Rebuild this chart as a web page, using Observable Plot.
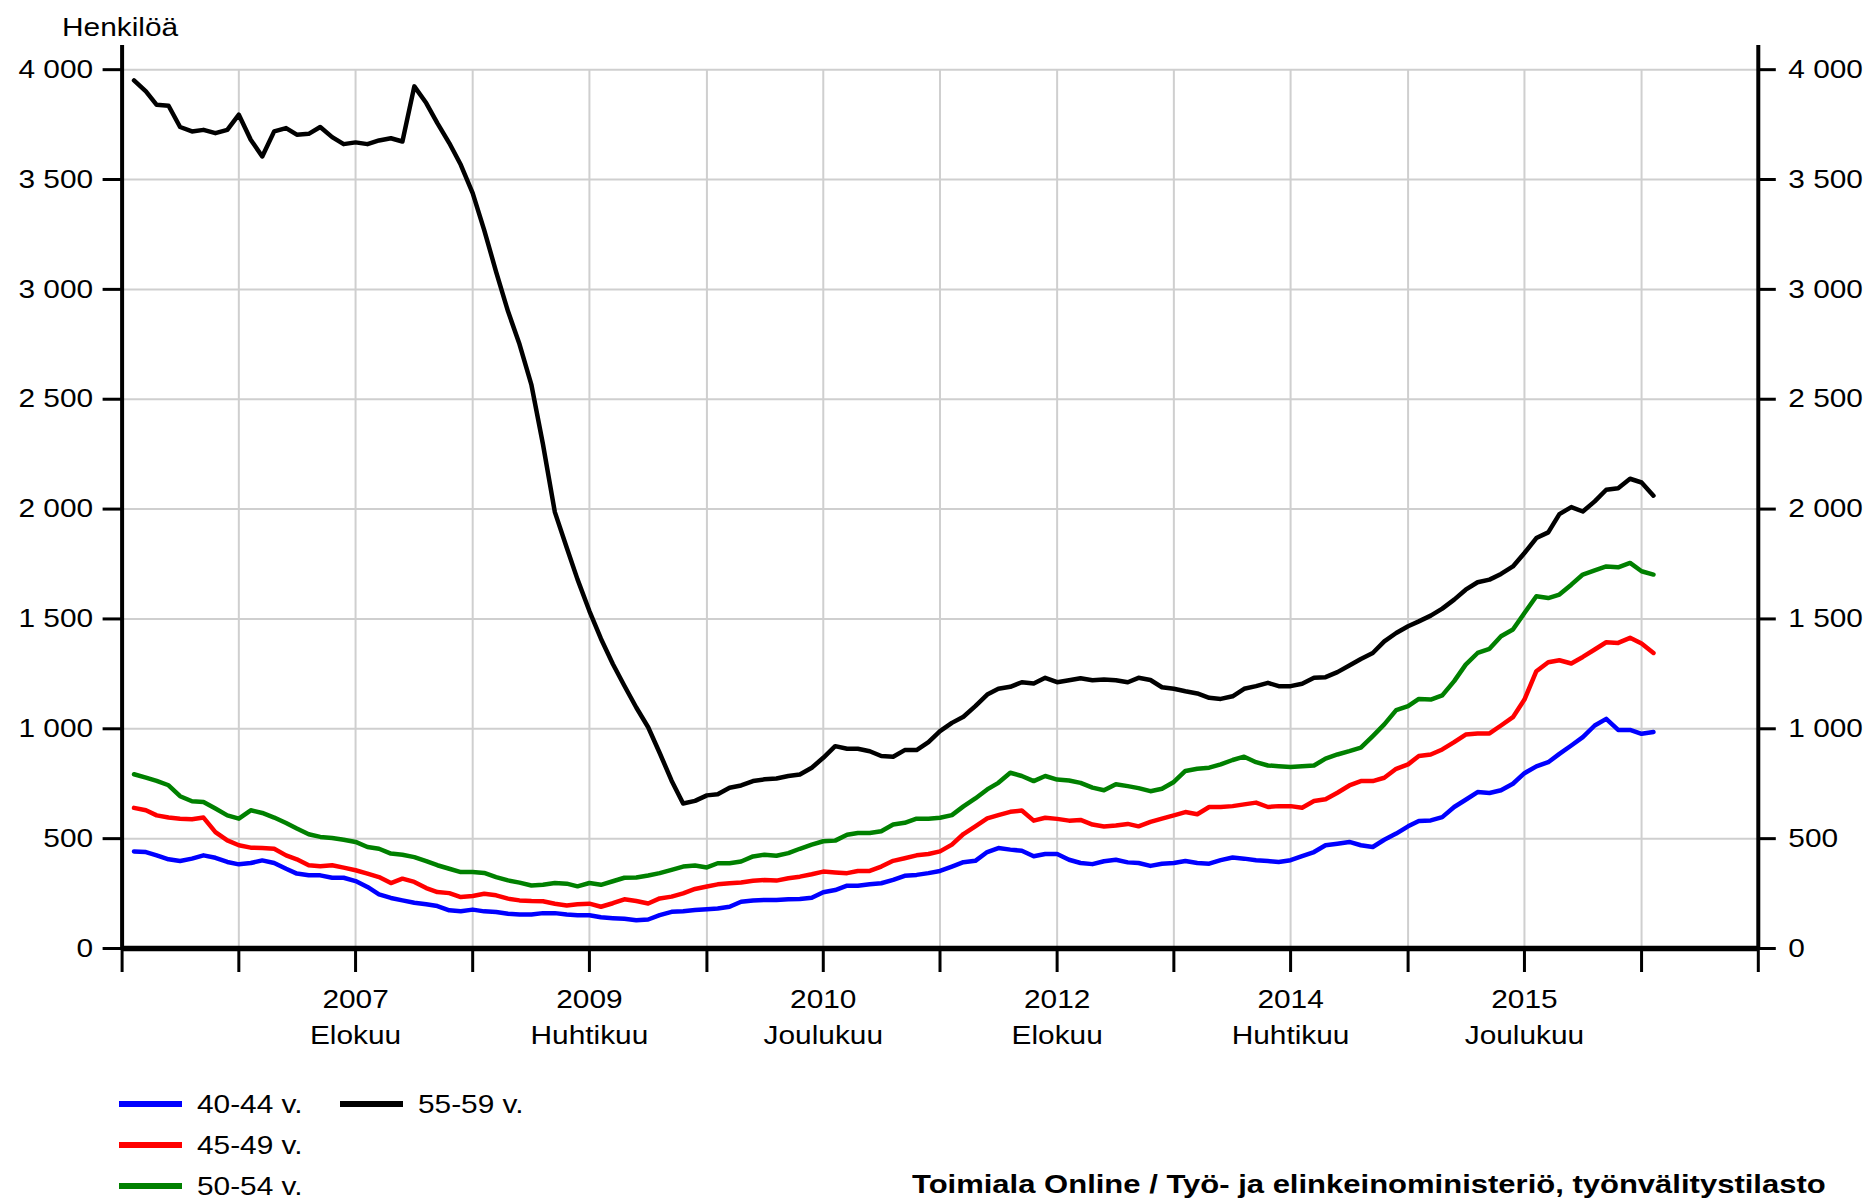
<!DOCTYPE html>
<html><head><meta charset="utf-8">
<script src="https://cdn.jsdelivr.net/npm/d3@7"></script>
<script src="https://cdn.jsdelivr.net/npm/@observablehq/plot@0.6"></script>
<style>
body{margin:0;background:#fff;}
#wrap{position:relative;width:1870px;height:1200px;overflow:hidden;font-family:"Liberation Sans",Arial,Helvetica,sans-serif;font-size:25.5px;color:#000;background:#fff;}
#chart{position:absolute;left:0;top:0;}
#chart svg{font-family:"Liberation Sans",Arial,Helvetica,sans-serif !important;font-size:25.5px !important;}
#chart svg text{fill:#000;}
.lab{position:absolute;height:30px;line-height:30px;white-space:nowrap;transform:scaleX(1.17);transform-origin:0 50%;}
.sw{position:absolute;width:63px;height:6px;}
</style></head>
<body><div id="wrap"><div id="chart"></div></div>
<script>
// ---- data (monthly, Jan 2006 - Nov 2016) ----
const seriesNames = ["40-44 v.", "45-49 v.", "50-54 v.", "55-59 v."];
const seriesColors = ["#0000ff", "#ff0000", "#008000", "#000000"];
const v40_44 = [442,439,424,406,398,409,424,413,394,383,
389,401,389,363,341,333,333,322,322,307,
280,246,230,219,208,201,193,174,170,177,
169,166,158,155,155,161,161,155,151,151,
142,138,135,129,132,152,167,170,175,179,
182,190,213,218,221,221,224,225,231,256,
266,286,286,292,297,312,331,335,343,353,
373,393,399,439,457,450,445,420,430,430,
404,389,384,397,404,392,389,376,386,389,
398,389,386,402,414,409,402,398,394,402,
420,439,470,477,485,470,462,495,523,556,
580,583,598,644,677,712,708,720,750,798,
829,848,886,924,962,1015,1045,995,995,977,
985];
const v45_49 = [640,629,606,596,591,588,596,530,492,470,
459,457,454,424,406,379,374,379,368,356,
341,325,298,318,303,275,257,252,234,239,
249,242,227,219,216,215,204,196,201,204,
190,206,224,216,205,228,236,251,271,282,
292,297,300,308,312,309,320,327,338,350,
346,343,353,353,373,399,411,424,430,442,
473,521,556,592,607,622,628,582,595,590,
582,585,564,555,560,567,556,576,591,606,
621,611,644,644,648,656,664,644,648,648,
641,671,679,709,742,762,762,777,818,838,
876,883,906,939,974,979,979,1015,1053,1133,
1262,1303,1312,1297,1327,1361,1394,1391,1414,1388,
1345];
const v50_54 = [793,778,763,743,693,670,667,637,606,591,
629,617,596,571,546,520,508,503,495,485,
462,454,432,427,416,398,379,363,348,348,
344,325,310,300,287,290,298,295,283,298,
290,306,322,323,332,343,358,373,378,369,
388,388,396,419,427,422,434,454,473,488,
491,518,526,526,534,564,572,591,591,595,
607,647,683,724,754,800,785,762,785,769,
765,754,732,720,748,739,730,716,727,758,
808,818,823,838,858,873,848,833,830,826,
830,833,864,883,898,914,967,1020,1085,1103,
1136,1133,1152,1217,1292,1345,1364,1421,1452,1527,
1603,1595,1611,1656,1702,1721,1739,1735,1755,1717,
1702];
const v55_59 = [3951,3901,3840,3836,3739,3719,3726,3711,3726,3795,
3681,3605,3719,3734,3704,3708,3739,3693,3661,3669,
3661,3678,3688,3673,3924,3848,3757,3666,3567,3438,
3270,3080,2900,2750,2565,2295,1986,1824,1680,1536,
1410,1295,1196,1097,1007,890,764,660,672,697,
702,732,742,762,770,774,785,792,823,868,
921,909,909,898,876,873,903,903,939,989,
1027,1055,1103,1156,1182,1191,1212,1206,1232,1212,
1221,1230,1221,1224,1221,1212,1232,1222,1189,1182,
1171,1161,1141,1136,1148,1182,1194,1209,1194,1194,
1205,1232,1235,1258,1288,1318,1345,1398,1436,1467,
1489,1515,1547,1588,1633,1667,1679,1705,1739,1800,
1868,1894,1977,2009,1989,2035,2088,2095,2138,2121,
2061];
const yTicks = [0, 500, 1000, 1500, 2000, 2500, 3000, 3500, 4000];
const tickYears = ["2007", "2009", "2010", "2012", "2014", "2015"];
const tickMonths = ["Elokuu", "Huhtikuu", "Joulukuu", "Elokuu", "Huhtikuu", "Joulukuu"];
const yLabel = "Henkilöä";
const caption = "Toimiala Online / Työ- ja elinkeinoministeriö, työnvälitystilasto";

// ---- build ----
const values = [v40_44, v45_49, v50_54, v55_59];
const firstMonth = new Date(Date.UTC(2006, 0, 1));
const months = v40_44.map((_, i) => d3.utcMonth.offset(firstMonth, i));
const rows = seriesNames.flatMap((name, s) => values[s].map((v, i) => ({date: months[i], value: v, series: name})));

const xStart = new Date(Date.UTC(2005, 11, 1));
const gridTicks = d3.range(15).map(k => d3.utcMonth.offset(xStart, k * 10));
const xEnd = gridTicks[gridTicks.length - 1];
const labelTicks = gridTicks.filter((d, k) => k % 2 === 0 && k > 0 && k < 14);
const yearOf = new Map(labelTicks.map((d, i) => [+d, tickYears[i]]));
const monthOf = new Map(labelTicks.map((d, i) => [+d, tickMonths[i]]));
const fmt = d3.formatLocale({thousands: "\u00a0", grouping: [3], decimal: ","}).format(",");

const chart = Plot.plot({
  width: 1870, height: 1070,
  marginLeft: 121.6, marginRight: 112.2, marginTop: 45, marginBottom: 122,
  x: {type: "utc", domain: [xStart, xEnd]},
  y: {domain: [0, 4110]},
  color: {domain: seriesNames, range: seriesColors},
  style: {background: "#fff", fontSize: "25.5px", fontFamily: "Liberation Sans, Arial, sans-serif", overflow: "visible"},
  marks: [
    Plot.ruleY(yTicks.filter(d => d > 0), {stroke: "#cfcfcf", strokeWidth: 2}),
    Plot.ruleX(gridTicks.slice(1, -1), {y1: 0, y2: 4000, stroke: "#cfcfcf", strokeWidth: 2}),
    Plot.line(rows, {x: "date", y: "value", z: "series", stroke: "series", strokeWidth: 4.5, strokeLinejoin: "round", strokeLinecap: "round"}),
    Plot.ruleY([0], {stroke: "#000", strokeWidth: 5.5}),
    Plot.ruleX([xStart, xEnd], {stroke: "#000", strokeWidth: 4}),
    Plot.axisY({anchor: "left", ticks: yTicks, tickSize: 19, tickPadding: 10, tickFormat: fmt, strokeWidth: 3, label: null}),
    Plot.axisY({anchor: "right", ticks: yTicks, tickSize: 17, tickPadding: 13, tickFormat: fmt, strokeWidth: 3, label: null}),
    Plot.axisX({ticks: gridTicks, tickSize: 24, tickFormat: () => "", strokeWidth: 3, label: null}),
    Plot.axisX({ticks: labelTicks, tickSize: 0, tickPadding: 41, tickFormat: d => yearOf.get(+d), label: null}),
    Plot.axisX({ticks: labelTicks, tickSize: 0, tickPadding: 77, tickFormat: d => monthOf.get(+d), label: null})
  ]
});
document.getElementById("chart").append(chart);

// widen glyphs horizontally like the reference's type, keeping each label's anchor fixed
chart.querySelectorAll("text").forEach(t => {
  if (!t.textContent) return;
  const r = t.getBoundingClientRect();
  const anchor = getComputedStyle(t).textAnchor;
  const ax = anchor === "end" ? r.right : anchor === "middle" ? (r.left + r.right) / 2 : r.left;
  const ctm = t.parentNode.getScreenCTM();
  const px = (ax - ctm.e) / ctm.a;
  const g = document.createElementNS("http://www.w3.org/2000/svg", "g");
  g.setAttribute("transform", `translate(${px},0) scale(1.17,1) translate(${-px},0)`);
  t.parentNode.insertBefore(g, t);
  g.appendChild(t);
});

const wrap = document.getElementById("wrap");
function addLabel(text, left, top, extra) {
  const el = document.createElement("div");
  el.className = "lab";
  el.style.left = left + "px";
  el.style.top = top + "px";
  if (extra) Object.assign(el.style, extra);
  el.textContent = text;
  wrap.append(el);
  return el;
}
addLabel(yLabel, 62, 11.5);
// legend
const legendPos = [[119, 1104], [119, 1145], [119, 1186], [340, 1104]];
seriesNames.forEach((name, i) => {
  const sw = document.createElement("div");
  sw.className = "sw";
  sw.style.left = legendPos[i][0] + "px";
  sw.style.top = (legendPos[i][1] - 3) + "px";
  sw.style.background = seriesColors[i];
  wrap.append(sw);
  addLabel(name, legendPos[i][0] + 78, legendPos[i][1] - 15);
});
addLabel(caption, 912, 1169, {fontWeight: "bold", fontSize: "26.5px"});
</script>
</body></html>
